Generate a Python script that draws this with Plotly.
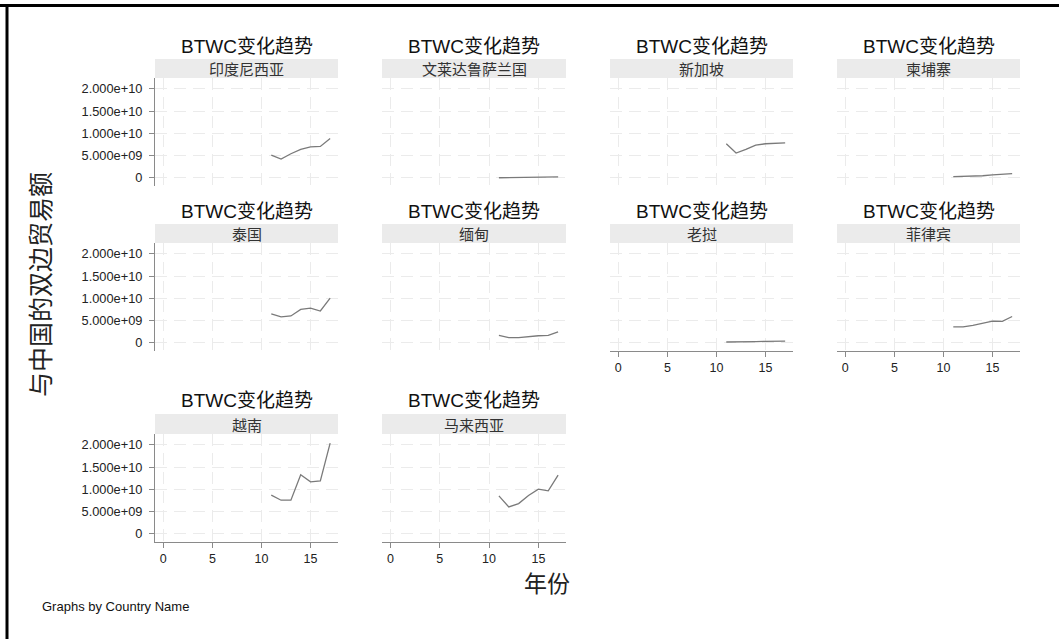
import plotly.graph_objects as go

# Year index (2011-2017 coded as 11..17)
years = [11, 12, 13, 14, 15, 16, 17]

# Bilateral trade with China, by country (current US$)
indonesia = [5.15e9, 4.25e9, 5.45e9, 6.42e9, 7.00e9, 7.10e9, 8.90e9]
brunei = [0.05e9, 0.07e9, 0.09e9, 0.11e9, 0.14e9, 0.19e9, 0.25e9]
singapore = [7.69e9, 5.60e9, 6.42e9, 7.39e9, 7.69e9, 7.84e9, 7.90e9]
cambodia = [0.30e9, 0.35e9, 0.40e9, 0.50e9, 0.70e9, 0.85e9, 1.00e9]
thailand = [6.52e9, 5.85e9, 6.07e9, 7.56e9, 7.85e9, 7.19e9, 10.07e9]
myanmar = [1.70e9, 1.19e9, 1.19e9, 1.48e9, 1.63e9, 1.70e9, 2.52e9]
laos = [0.22e9, 0.20e9, 0.18e9, 0.30e9, 0.37e9, 0.38e9, 0.44e9]
philippines = [3.60e9, 3.60e9, 3.97e9, 4.49e9, 4.93e9, 4.85e9, 5.96e9]
vietnam = [8.72e9, 7.59e9, 7.59e9, 13.30e9, 11.73e9, 11.95e9, 20.40e9]
malaysia = [8.57e9, 6.09e9, 6.84e9, 8.65e9, 10.08e9, 9.70e9, 13.23e9]

countries = ["印度尼西亚", "文莱达鲁萨兰国", "新加坡", "柬埔寨", "泰国",
             "缅甸", "老挝", "菲律宾", "越南", "马来西亚"]
series = [indonesia, brunei, singapore, cambodia, thailand,
          myanmar, laos, philippines, vietnam, malaysia]

panel_title = "BTWC变化趋势"
y_title = "与中国的双边贸易额"
x_title = "年份"
note = "Graphs by Country Name"

y_tickvals = [0, 5e9, 1e10, 1.5e10, 2e10]
y_ticktext = ["0", "5.000e+09", "1.000e+10", "1.500e+10", "2.000e+10"]
x_tickvals = [0, 5, 10, 15]
x_ticktext = ["0", "5", "10", "15"]

W, H = 1059, 639
LAT = "Liberation Sans, Noto Sans CJK SC"
CJK = "Noto Sans CJK SC, Liberation Sans"

# panel geometry in pixels
col_x = [(155, 338), (382, 566), (610, 793), (837, 1020)]
rows = [  # (strip top, strip bottom / plot top, plot bottom)
    (59, 78, 186),
    (224, 243, 351),
    (414, 434, 542),
]


def px_x(p):
    return p / W


def px_y(p):
    return 1 - p / H


fig = go.Figure()
shapes = []
annotations = []

for i, (name, vals) in enumerate(zip(countries, series)):
    r, c = divmod(i, 4)
    x0, x1 = col_x[c]
    st, pt, pb = rows[r]
    k = "" if i == 0 else str(i + 1)
    xa, ya = "xaxis" + k, "yaxis" + k

    show_y = c == 0
    # bottom panel in its column carries the x axis
    show_x = (r == 2) or (r == 1 and c >= 2)

    fig.add_trace(go.Scatter(
        x=years, y=vals, mode="lines",
        line=dict(color="#7a7a7a", width=1.3),
        xaxis="x" + k, yaxis="y" + k, showlegend=False, hoverinfo="skip",
    ))

    fig.layout[xa] = dict(
        domain=[px_x(x0), px_x(x1)], anchor="y" + k,
        range=[-0.85, 17.8], tickvals=x_tickvals, ticktext=x_ticktext,
        showticklabels=show_x, ticks="outside" if show_x else "",
        ticklen=5, tickcolor="#8a8a8a",
        showline=show_x, linecolor="#8a8a8a", linewidth=1,
        showgrid=True, gridcolor="#ebebeb", gridwidth=1, griddash="12px,7px",
        zeroline=False, fixedrange=True,
        tickfont=dict(family=LAT, size=12.5, color="#222"),
    )
    fig.layout[ya] = dict(
        domain=[px_y(pb), px_y(pt)], anchor="x" + k,
        range=[-1.8e9, 2.247e10], tickvals=y_tickvals, ticktext=y_ticktext,
        showticklabels=show_y, ticks="outside" if show_y else "",
        ticklen=5, tickcolor="#8a8a8a", ticklabelstandoff=4,
        showline=show_y, linecolor="#8a8a8a", linewidth=1,
        showgrid=True, gridcolor="#ebebeb", gridwidth=1, griddash="12px,7px",
        zeroline=False, fixedrange=True,
        tickfont=dict(family=LAT, size=12.8, color="#222"),
    )

    # strip with the country name
    shapes.append(dict(
        type="rect", xref="paper", yref="paper",
        x0=px_x(x0), x1=px_x(x1), y0=px_y(pt), y1=px_y(st),
        fillcolor="#ebebeb", line=dict(width=0), layer="below",
    ))
    annotations.append(dict(
        text=name, xref="paper", yref="paper",
        x=px_x((x0 + x1) / 2), y=px_y((st + pt) / 2),
        xanchor="center", yanchor="middle", showarrow=False,
        font=dict(family=CJK, size=15, color="#333"),
    ))
    annotations.append(dict(
        text=panel_title, xref="paper", yref="paper",
        x=px_x((x0 + x1) / 2), y=px_y(st - 13),
        xanchor="center", yanchor="middle", showarrow=False,
        font=dict(family=LAT, size=19, color="#111"),
    ))

# shared axis titles and note
annotations.append(dict(
    text=y_title, xref="paper", yref="paper", x=px_x(39), y=px_y(285),
    xanchor="center", yanchor="middle", textangle=-90, showarrow=False,
    font=dict(family=CJK, size=25, color="#222"),
))
annotations.append(dict(
    text=x_title, xref="paper", yref="paper", x=px_x(547), y=px_y(582),
    xanchor="center", yanchor="middle", showarrow=False,
    font=dict(family=CJK, size=23, color="#222"),
))
annotations.append(dict(
    text=note, xref="paper", yref="paper", x=px_x(40), y=px_y(606),
    xanchor="left", yanchor="middle", showarrow=False,
    font=dict(family=LAT, size=13, color="#111"),
))

# window frame edges along the top and left
shapes.append(dict(type="line", xref="paper", yref="paper",
                   x0=0, x1=1, y0=px_y(5.5), y1=px_y(5.5),
                   line=dict(color="#000", width=3)))
shapes.append(dict(type="line", xref="paper", yref="paper",
                   x0=px_x(7), x1=px_x(7), y0=0, y1=px_y(4),
                   line=dict(color="#000", width=3)))

fig.update_layout(
    width=W, height=H,
    margin=dict(l=0, r=0, t=0, b=0),
    paper_bgcolor="white", plot_bgcolor="rgba(0,0,0,0)",
    shapes=shapes, annotations=annotations,
)

fig.write_html("out.html", config={"displayModeBar": False})
